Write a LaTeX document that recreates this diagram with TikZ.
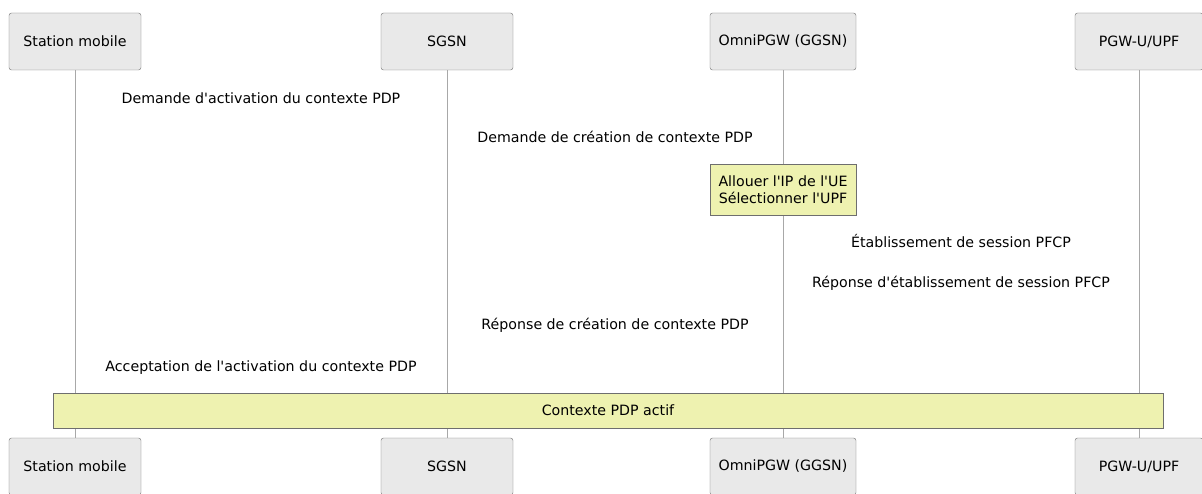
\documentclass[tikz,border=0pt]{standalone}
\usepackage{fontspec}
\setmainfont{DejaVu Sans}[Ligatures=TeXOff]
\usepackage{xcolor}
\usetikzlibrary{positioning}
\definecolor{fondgris}{HTML}{E9E9E9}
\definecolor{bordgris}{HTML}{6E6E6E}
\definecolor{notejaune}{HTML}{EEF2B0}
\definecolor{lignevie}{HTML}{A8A8A8}

\begin{document}
\begin{tikzpicture}[x=1pt, y=-1pt,
  acteur/.style={draw=bordgris, fill=fondgris, rounded corners=2.5pt,
    minimum height=57pt, inner sep=0pt, font=\fontsize{14.2}{17}\selectfont},
  vie/.style={draw=lignevie, line width=0.9pt},
  msg/.style={font=\fontsize{14.2}{17}\selectfont},
  remarque/.style={draw=bordgris, fill=notejaune, align=center,
    inner sep=0pt, font=\fontsize{14.2}{17}\selectfont}]
  \useasboundingbox (0,0) rectangle (1202,494);

  % Participants (haut)
  \node[acteur, minimum width=132pt] (sm)   at (75,41.5)   {Station mobile};
  \node[acteur, minimum width=132pt] (sgsn) at (447,41.5)  {SGSN};
  \node[acteur, minimum width=146pt] (pgw)  at (783,41.5)  {OmniPGW (GGSN)};
  \node[acteur, minimum width=128pt] (upf)  at (1139,41.5) {PGW-U/UPF};

  % Participants (bas)
  \node[acteur, minimum width=132pt] (smb)   at (75,466.5)   {Station mobile};
  \node[acteur, minimum width=132pt] (sgsnb) at (447,466.5)  {SGSN};
  \node[acteur, minimum width=146pt] (pgwb)  at (783,466.5)  {OmniPGW (GGSN)};
  \node[acteur, minimum width=128pt] (upfb)  at (1139,466.5) {PGW-U/UPF};

  % Lignes de vie
  \draw[vie] (sm) -- (smb);
  \draw[vie] (sgsn) -- (sgsnb);
  \draw[vie] (pgw) -- (pgwb);
  \draw[vie] (upf) -- (upfb);

  % Messages
  \node[msg] (m1) at (261,98)  {Demande d'activation du contexte PDP};
  \node[msg] (m2) at (615,137) {Demande de création de contexte PDP};
  \node[remarque, minimum width=146pt, minimum height=51pt] (note) at (783,189.5)
    {Allouer l'IP de l'UE\\Sélectionner l'UPF};
  \node[msg] (m3) at (961,241) {Établissement de session PFCP};
  \node[msg] (m4) at (961,283) {Réponse d'établissement de session PFCP};
  \node[msg] (m5) at (615,325) {Réponse de création de contexte PDP};
  \node[msg] (m6) at (261,368) {Acceptation de l'activation du contexte PDP};

  % Etat final
  \node[remarque, minimum width=1110pt, minimum height=35pt] (actif) at (608,410.5)
    {Contexte PDP actif};
\end{tikzpicture}
\end{document}
